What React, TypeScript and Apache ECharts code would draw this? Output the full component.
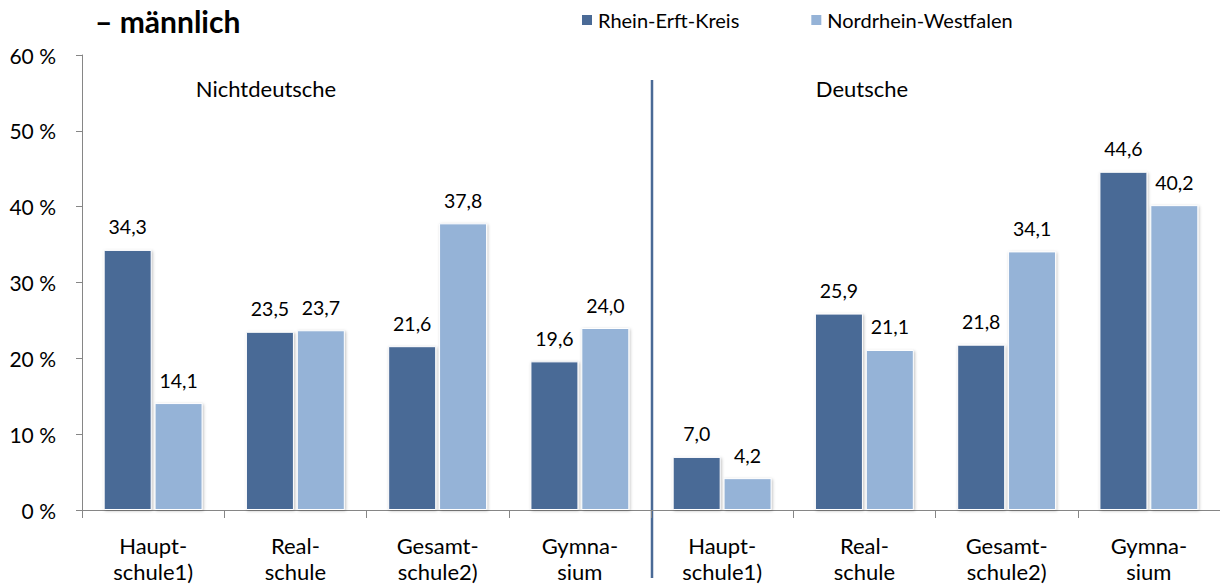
import React, { useEffect, useRef } from "react";
import * as echarts from "echarts";

const categories = [
  "Haupt-\nschule1)",
  "Real-\nschule",
  "Gesamt-\nschule2)",
  "Gymna-\nsium",
  "Haupt-\nschule1)",
  "Real-\nschule",
  "Gesamt-\nschule2)",
  "Gymna-\nsium",
];
const rheinErft = [34.3, 23.5, 21.6, 19.6, 7.0, 25.9, 21.8, 44.6];
const nrw = [14.1, 23.7, 37.8, 24.0, 4.2, 21.1, 34.1, 40.2];
const groupLabels = ["Nichtdeutsche", "Deutsche"];

const FONT = "Lato, 'Open Sans', sans-serif";
const DARK = "#4a6a96";
const LIGHT = "#95b3d7";

export default function App() {
  const ref = useRef<HTMLDivElement>(null);
  useEffect(() => {
    const chart = echarts.init(ref.current!, null, { renderer: "svg" });
    const fmt = (p: any) => p.value.toFixed(1).replace(".", ",");
    const barStyle = (c: string) => ({
      color: c,
      borderColor: "#ffffff",
      borderWidth: 1,
      shadowColor: "rgba(0,0,0,0.25)",
      shadowBlur: 3,
      shadowOffsetX: 1,
      shadowOffsetY: 1,
    });
    chart.setOption({
      animation: false,
      textStyle: { fontFamily: FONT },
      title: {
        text: "– männlich",
        left: 90,
        top: 1,
        textStyle: { fontFamily: FONT, fontSize: 30, fontWeight: "bold", color: "#000" },
      },
      legend: {
        left: 575,
        top: 5,
        icon: "rect",
        itemWidth: 12,
        itemHeight: 12,
        itemGap: 70,
        textStyle: { fontFamily: FONT, fontSize: 20, color: "#000" },
        data: ["Rhein-Erft-Kreis", "Nordrhein-Westfalen"],
      },
      grid: { left: 82, top: 55, width: 1141, height: 455, containLabel: false },
      xAxis: {
        type: "category",
        data: categories,
        axisLine: { lineStyle: { color: "#868686" } },
        axisTick: { show: true, length: 8, alignWithLabel: false, lineStyle: { color: "#868686" } },
        axisLabel: {
          interval: 0,
          margin: 22,
          fontSize: 22,
          lineHeight: 26,
          color: "#000",
          fontFamily: FONT,
        },
      },
      yAxis: {
        type: "value",
        min: 0,
        max: 60,
        interval: 10,
        axisLine: { show: true, lineStyle: { color: "#868686" } },
        axisTick: { show: true, length: 6, lineStyle: { color: "#868686" } },
        splitLine: { show: false },
        axisLabel: { formatter: "{value} %", fontSize: 21, color: "#000", margin: 26, fontFamily: FONT },
      },
      series: [
        {
          name: "Rhein-Erft-Kreis",
          type: "bar",
          data: rheinErft,
          barWidth: 48,
          barGap: "6%",
          itemStyle: barStyle(DARK),
          label: { show: true, position: "top", distance: 13, formatter: fmt, fontSize: 19.5, color: "#000", fontFamily: FONT },
        },
        {
          name: "Nordrhein-Westfalen",
          type: "bar",
          data: nrw,
          barWidth: 48,
          itemStyle: barStyle(LIGHT),
          label: { show: true, position: "top", distance: 13, formatter: fmt, fontSize: 19.5, color: "#000", fontFamily: FONT },
        },
      ],
      graphic: [
        {
          type: "line",
          shape: { x1: 652, y1: 80, x2: 652, y2: 578 },
          style: { stroke: DARK, lineWidth: 2.5 },
        },
        {
          type: "text",
          x: 266,
          y: 88,
          style: { text: groupLabels[0], fontSize: 22, fontFamily: FONT, fill: "#000", textAlign: "center", textVerticalAlign: "middle" },
        },
        {
          type: "text",
          x: 862,
          y: 88,
          style: { text: groupLabels[1], fontSize: 22, fontFamily: FONT, fill: "#000", textAlign: "center", textVerticalAlign: "middle" },
        },
      ],
    });
    return () => chart.dispose();
  }, []);
  return <div ref={ref} style={{ width: 1220, height: 585, position: "absolute", left: 0, top: 0 }} />;
}
